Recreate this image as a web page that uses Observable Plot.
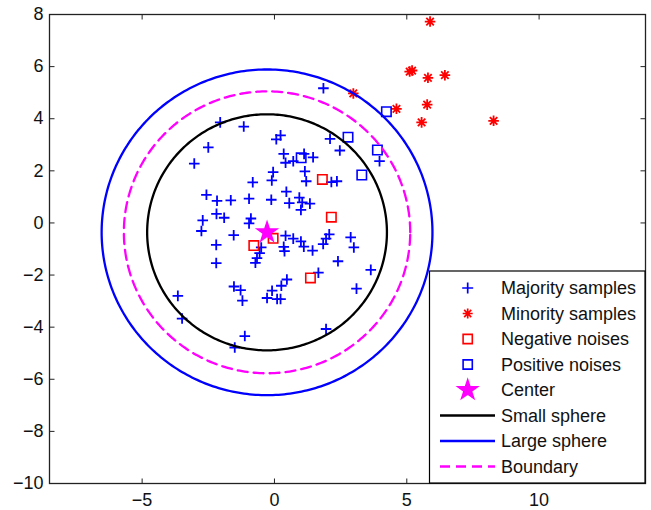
<!DOCTYPE html>
<html><head><meta charset="utf-8">
<script src="https://cdn.jsdelivr.net/npm/d3@7"></script>
<script src="https://cdn.jsdelivr.net/npm/@observablehq/plot@0.6"></script>
<style>
body{margin:0;background:#fff;}
#chart{position:relative;width:651px;height:510px;}
</style></head><body><div id="chart"></div>
<script>
// ---- data ----
const majorityX = [1.85,-2.05,-1.16,0.23,0.07,-2.50,-3.03,2.10,2.47,3.97,0.35,0.42,0.71,1.12,1.46,1.15,1.20,-0.05,-0.10,-0.82,2.15,2.36,0.45,-2.57,-2.17,-1.65,-0.96,-0.12,0.56,0.94,1.05,1.34,1.00,-2.71,-2.19,-1.90,-2.76,-0.89,-0.96,-1.54,-2.20,-2.20,0.42,0.71,0.35,0.38,1.00,1.11,1.44,1.84,1.95,2.07,2.88,3.00,2.40,3.64,1.66,-0.50,-0.56,-0.66,-0.72,3.10,0.47,0.26,-0.09,-0.28,0.10,0.23,-1.53,-1.28,-1.21,-3.65,-3.49,-1.12,-1.50,1.95];
const majorityY = [5.17,3.86,3.70,3.36,3.21,2.90,2.28,3.23,2.78,2.37,2.65,2.31,2.37,2.65,2.52,1.98,1.60,1.95,1.63,1.56,1.57,1.60,1.20,1.08,0.85,0.87,0.93,0.89,0.76,0.97,0.79,0.74,0.50,0.10,0.35,0.20,-0.31,0.17,-0.02,-0.47,-0.84,-1.54,-0.49,-0.60,-0.92,-1.08,-0.71,-0.91,-1.06,-0.81,-0.60,-0.44,-0.55,-0.94,-1.47,-1.80,-1.91,-0.94,-1.16,-1.35,-1.53,-2.52,-2.17,-2.41,-2.60,-2.88,-2.92,-2.92,-2.44,-2.58,-2.98,-2.80,-3.67,-4.34,-4.78,-4.07];
const minorityX = [5.88,5.11,5.20,5.80,6.44,2.98,4.61,5.77,5.56,8.28];
const minorityY = [7.73,5.81,5.85,5.57,5.67,4.97,4.38,4.54,3.86,3.92];
const negativeX = [1.81,2.15,-0.78,-0.05,1.36];
const negativeY = [1.67,0.22,-0.87,-0.59,-2.11];
const positiveX = [4.23,2.78,3.89,3.30,1.01];
const positiveY = [4.27,3.29,2.80,1.84,2.50];
const centerX = [-0.28];
const centerY = [-0.36];
const sphereNames = ["Small sphere","Large sphere","Boundary"];
const sphereRadii = [4.53, 6.25, 5.41];
const xTicks = [-5,0,5,10];
const yTicks = [-10,-8,-6,-4,-2,0,2,4,6,8];
const legendLabels = ["Majority samples","Minority samples","Negative noises","Positive noises","Center","Small sphere","Large sphere","Boundary"];

// ---- symbols ----
const rad = s => Math.sqrt(s/Math.PI);
const plusSym = {draw(c,s){const r=rad(s);c.moveTo(-r,0);c.lineTo(r,0);c.moveTo(0,-r);c.lineTo(0,r);}};
const astSym = {draw(c,s){const r=rad(s),d=r*Math.SQRT1_2;c.moveTo(-r,0);c.lineTo(r,0);c.moveTo(0,-r);c.lineTo(0,r);c.moveTo(-d,-d);c.lineTo(d,d);c.moveTo(-d,d);c.lineTo(d,-d);}};
const sqSym = {draw(c,s){const r=rad(s);c.rect(-r,-r,2*r,2*r);}};
const starSym = {draw(c,s){const R=rad(s),ri=R*0.382;for(let i=0;i<10;i++){const a=-Math.PI/2+i*Math.PI/5,rr=i%2?ri:R;const px=rr*Math.cos(a),py=rr*Math.sin(a);i?c.lineTo(px,py):c.moveTo(px,py);}c.closePath();}};
const tickUp = {draw(c,s){const r=rad(s);c.moveTo(0,0);c.lineTo(0,-r);}};
const tickDown = {draw(c,s){const r=rad(s);c.moveTo(0,0);c.lineTo(0,r);}};
const tickRight = {draw(c,s){const r=rad(s);c.moveTo(0,0);c.lineTo(r,0);}};
const tickLeft = {draw(c,s){const r=rad(s);c.moveTo(0,0);c.lineTo(-r,0);}};

const pts = (xs, ys) => xs.map((x,i)=>({x, y: ys[i]}));
const circle = (name, r) => d3.range(0, 361).map(a => ({name, x: centerX[0] + r*Math.cos(a*Math.PI/180), y: centerY[0] + r*Math.sin(a*Math.PI/180)}));
const circles = sphereNames.map((n,i)=>circle(n, sphereRadii[i]));

const blue = "#0000ff", red = "#ff0000", magenta = "#ff00ff", frameCol = "#222";

const chart = Plot.plot({
  width: 651, height: 510,
  marginLeft: 49, marginRight: 6, marginTop: 14, marginBottom: 27,
  style: {fontSize: "18px", fontFamily: "'Liberation Sans', Arial, sans-serif", background: "#fff", color: "#111"},
  x: {domain: [-8.5, 14.02]},
  y: {domain: [-10, 8]},
  marks: [
    Plot.dot(pts(majorityX, majorityY), {x:"x", y:"y", symbol: plusSym, r: 5.3, stroke: blue, strokeWidth: 1.8, fill: "none"}),
    Plot.dot(pts(minorityX, minorityY), {x:"x", y:"y", symbol: astSym, r: 5.3, stroke: red, strokeWidth: 1.8, fill: "none"}),
    Plot.dot(pts(negativeX, negativeY), {x:"x", y:"y", symbol: sqSym, r: 4.7, stroke: red, strokeWidth: 1.6, fill: "none"}),
    Plot.dot(pts(positiveX, positiveY), {x:"x", y:"y", symbol: sqSym, r: 4.7, stroke: blue, strokeWidth: 1.6, fill: "none"}),
    Plot.dot(pts(centerX, centerY), {x:"x", y:"y", symbol: starSym, r: 12.8, fill: magenta, stroke: "none"}),
    Plot.line(circles[0], {x:"x", y:"y", stroke: "#000", strokeWidth: 2.3}),
    Plot.line(circles[1], {x:"x", y:"y", stroke: blue, strokeWidth: 2.3}),
    Plot.line(circles[2], {x:"x", y:"y", stroke: magenta, strokeWidth: 2.3, strokeDasharray: "10,6"}),
    Plot.frame({stroke: frameCol, strokeWidth: 1.3}),
    Plot.dot(xTicks, {x: d=>d, frameAnchor: "bottom", symbol: tickUp, r: 5, stroke: frameCol, strokeWidth: 1}),
    Plot.dot(xTicks, {x: d=>d, frameAnchor: "top", symbol: tickDown, r: 5, stroke: frameCol, strokeWidth: 1}),
    Plot.dot(yTicks, {y: d=>d, frameAnchor: "left", symbol: tickRight, r: 5, stroke: frameCol, strokeWidth: 1}),
    Plot.dot(yTicks, {y: d=>d, frameAnchor: "right", symbol: tickLeft, r: 5, stroke: frameCol, strokeWidth: 1}),
    Plot.axisX(xTicks, {anchor: "bottom", tickSize: 0, tickPadding: 10, label: null}),
    Plot.axisY(yTicks, {anchor: "left", tickSize: 0, tickPadding: 6, label: null})
  ]
});
document.getElementById("chart").appendChild(chart);

// ---- legend ----
const svg = d3.select(chart);
const lg = svg.append("g");
const lx0 = 429.5, ly0 = 271, lx1 = 645, ly1 = 483;
lg.append("rect").attr("x", lx0).attr("y", ly0).attr("width", lx1-lx0).attr("height", ly1-ly0)
  .attr("fill", "#fff").attr("stroke", "#000").attr("stroke-width", 1.2);
const legendSyms = [
  {sym: plusSym, r: 5.5, stroke: blue, fill: "none", sw: 1.7},
  {sym: astSym, r: 5, stroke: red, fill: "none", sw: 1.7},
  {sym: sqSym, r: 4.6, stroke: red, fill: "none", sw: 1.6},
  {sym: sqSym, r: 4.6, stroke: blue, fill: "none", sw: 1.6},
  {sym: starSym, r: 12.8, stroke: "none", fill: magenta, sw: 0},
  {line: "#000"}, {line: blue}, {line: magenta, dash: "10,6"}
];
legendLabels.forEach((lab, i) => {
  const cy = 288 + i*25.5;
  const s = legendSyms[i];
  if (s.line) {
    lg.append("line").attr("x1", 440).attr("x2", 495).attr("y1", cy).attr("y2", cy)
      .attr("stroke", s.line).attr("stroke-width", 2.3).attr("stroke-dasharray", s.dash || null);
  } else {
    lg.append("path").attr("transform", `translate(467.7,${cy})`)
      .attr("d", d3.symbol(s.sym, Math.PI*s.r*s.r)())
      .attr("fill", s.fill).attr("stroke", s.stroke).attr("stroke-width", s.sw);
  }
  lg.append("text").attr("x", 501).attr("y", cy).attr("dy", "0.35em")
    .attr("text-anchor", "start")
    .attr("fill", "#111").style("font-size", "18px").text(lab);
});
</script></body></html>
